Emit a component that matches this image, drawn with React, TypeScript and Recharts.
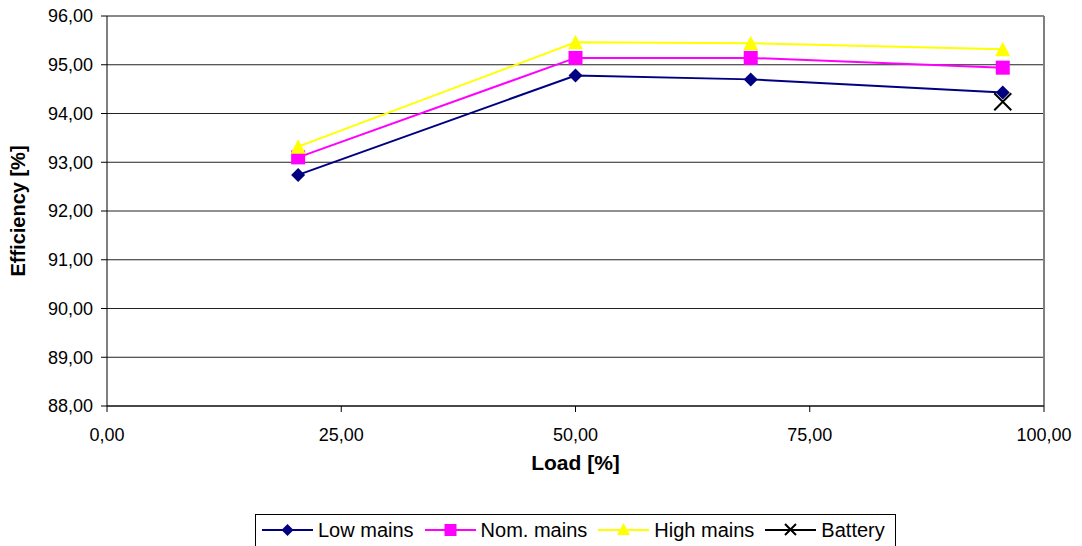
import React from 'react';
import { LineChart, Line, XAxis, YAxis, CartesianGrid, Legend, ReferenceLine } from 'recharts';

const loads = [20.4, 50.0, 68.7, 95.6];
const lowMains = [92.74, 94.78, 94.70, 94.43];
const nomMains = [93.10, 95.14, 95.14, 94.94];
const highMains = [93.32, 95.46, 95.44, 95.32];
const batteryLoads = [95.6];
const batteryValues = [94.24];
const xTicks = [0, 25, 50, 75, 100];
const yTicks = [88, 89, 90, 91, 92, 93, 94, 95, 96];

const data = loads.map((x, i) => ({ load: x, low: lowMains[i], nom: nomMains[i], high: highMains[i] }));
const batteryData = batteryLoads.map((x, i) => ({ load: x, battery: batteryValues[i] }));

const FONT = '"Liberation Sans", Arial, sans-serif';
const fmt = (v: number) => v.toFixed(2).replace('.', ',');

const Diamond = (p: any) => {
  const { cx, cy, index } = p;
  if (cx == null || cy == null) return <g key={`d${index}`} />;
  const s = 7;
  return <path key={`d${index}`} d={`M${cx},${cy - s}L${cx + s},${cy}L${cx},${cy + s}L${cx - s},${cy}Z`} fill="#000080" stroke="none" />;
};
const Square = (p: any) => {
  const { cx, cy, index } = p;
  if (cx == null || cy == null) return <g key={`s${index}`} />;
  const s = 7;
  return <rect key={`s${index}`} x={cx - s} y={cy - s} width={2 * s} height={2 * s} fill="#FF00FF" stroke="none" />;
};
const Triangle = (p: any) => {
  const { cx, cy, index } = p;
  if (cx == null || cy == null) return <g key={`t${index}`} />;
  return <path key={`t${index}`} d={`M${cx},${cy - 7.5}L${cx + 7.5},${cy + 7}L${cx - 7.5},${cy + 7}Z`} fill="#FFFF00" stroke="none" />;
};
const Cross = (p: any) => {
  const { cx, cy, index } = p;
  if (cx == null || cy == null) return <g key={`x${index}`} />;
  const s = 8.5;
  return (
    <path key={`x${index}`} d={`M${cx - s},${cy - s}L${cx + s},${cy + s}M${cx - s},${cy + s}L${cx + s},${cy - s}`} stroke="#000" strokeWidth={2} fill="none" />
  );
};

const legendItems = [
  { name: 'Low mains', color: '#000080', shape: 'diamond' },
  { name: 'Nom. mains', color: '#FF00FF', shape: 'square' },
  { name: 'High mains', color: '#FFFF00', shape: 'triangle' },
  { name: 'Battery', color: '#000000', shape: 'cross' },
];

const LegendIcon = ({ color, shape }: { color: string; shape: string }) => (
  <svg width={51} height={20} style={{ display: 'block' }}>
    <line x1={0} y1={10} x2={51} y2={10} stroke={color} strokeWidth={2} />
    {shape === 'diamond' && <path d="M25.5,4L31.5,10L25.5,16L19.5,10Z" fill={color} />}
    {shape === 'square' && <rect x={19.5} y={4} width={12} height={12} fill={color} />}
    {shape === 'triangle' && <path d="M25.5,3L32,15L19,15Z" fill={color} />}
    {shape === 'cross' && <path d="M20,4L31,15M20,15L31,4" stroke={color} strokeWidth={2} />}
  </svg>
);

const CustomLegend = () => (
  <div
    style={{
      display: 'flex',
      alignItems: 'center',
      border: '1px solid #000',
      background: '#fff',
      width: 641,
      height: 36,
      padding: '0 0 4px 6px',
      boxSizing: 'border-box',
      fontFamily: FONT,
      fontSize: 20,
      color: '#000',
      whiteSpace: 'nowrap',
    }}
  >
    {legendItems.map((it) => (
      <div key={it.name} style={{ display: 'flex', alignItems: 'center', marginRight: 11 }}>
        <LegendIcon color={it.color} shape={it.shape} />
        <span style={{ marginLeft: 5 }}>{it.name}</span>
      </div>
    ))}
  </div>
);

export default function App() {
  return (
    <div style={{ position: 'absolute', left: 0, top: 0, width: 1082, height: 546, background: '#fff', overflow: 'hidden' }}>
      <LineChart width={1082} height={546} data={data} margin={{ top: 16, right: 38, left: 0, bottom: 0 }}>
        <CartesianGrid horizontal vertical={false} stroke="#222" strokeWidth={1} />
        <XAxis
          dataKey="load"
          type="number"
          domain={[0, 100]}
          ticks={xTicks}
          tickFormatter={fmt}
          height={140}
          stroke="#000"
          tickSize={6}
          tick={{ fill: '#000', fontSize: 18, fontFamily: FONT }}
          tickMargin={16}
          allowDataOverflow
          label={(props: any) => {
            const vb = props.viewBox;
            return (
              <text x={vb.x + vb.width / 2} y={vb.y + 64} textAnchor="middle" fontFamily={FONT} fontSize={21} fontWeight="bold" fill="#000">
                Load [%]
              </text>
            );
          }}
        />
        <YAxis
          type="number"
          domain={[88, 96]}
          ticks={yTicks}
          tickFormatter={fmt}
          width={107}
          stroke="#000"
          tickSize={6}
          tickMargin={8}
          tick={{ fill: '#000', fontSize: 18, fontFamily: FONT }}
          allowDataOverflow
          label={(props: any) => {
            const vb = props.viewBox;
            const cy = vb.y + vb.height / 2;
            return (
              <text x={25} y={cy} transform={`rotate(-90, 25, ${cy})`} textAnchor="middle" fontFamily={FONT} fontSize={20} fontWeight="bold" fill="#000">
                Efficiency [%]
              </text>
            );
          }}
        />
        <ReferenceLine x={100} stroke="#808080" strokeWidth={2} />
        <ReferenceLine y={96} stroke="#808080" strokeWidth={1} />
        <Line dataKey="low" name="Low mains" stroke="#000080" strokeWidth={2} dot={Diamond} isAnimationActive={false} />
        <Line dataKey="nom" name="Nom. mains" stroke="#FF00FF" strokeWidth={2} dot={Square} isAnimationActive={false} />
        <Line dataKey="high" name="High mains" stroke="#FFFF00" strokeWidth={2} dot={Triangle} isAnimationActive={false} />
        <Line data={batteryData} dataKey="battery" name="Battery" stroke="#000" strokeWidth={2} dot={Cross} isAnimationActive={false} />
        <Legend
          layout="horizontal"
          verticalAlign="middle"
          align="center"
          content={<CustomLegend />}
          wrapperStyle={{ position: 'absolute', left: 255, top: 514, width: 641, height: 36 }}
        />
      </LineChart>
    </div>
  );
}
